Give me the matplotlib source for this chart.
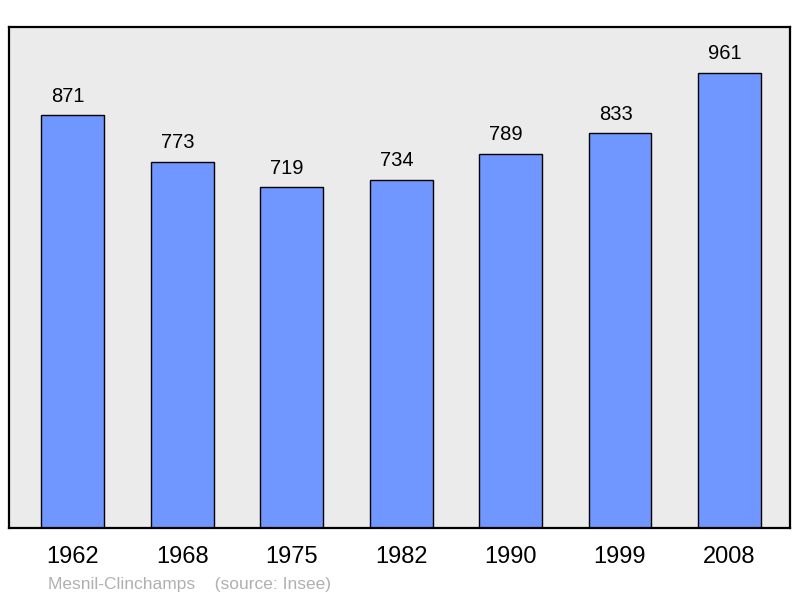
import matplotlib.pyplot as plt

plt.rcParams['font.family'] = ['Liberation Sans', 'DejaVu Sans']

years = ['1962', '1968', '1975', '1982', '1990', '1999', '2008']
population = [871, 773, 719, 734, 789, 833, 961]
commune = 'Mesnil-Clinchamps'
source = '(source: Insee)'

fig = plt.figure(figsize=(8, 5.98), dpi=100)
ax = fig.add_axes([0.011, 0.117, 0.977, 0.838])
ax.set_facecolor('#ebebeb')

x = range(len(years))
ax.bar(x, population, width=0.575, color='#7097ff', edgecolor='black', linewidth=1.0)

for xi, v in zip(x, population):
    ax.text(xi - 0.04, v + 41, str(v), ha='center', va='center', fontsize=14.5, color='black')

ax.set_xlim(-0.584, 6.557)
ax.set_ylim(0, 1058)
ax.set_yticks([])
ax.set_xticks(list(x))
ax.set_xticklabels(years, fontsize=17)
ax.tick_params(axis='x', length=0, pad=13)
for s in ax.spines.values():
    s.set_linewidth(1.6)

fig.text(0.06, 0.015, commune + '    ' + source, fontsize=12.5, color='#b0b0b0')

fig.savefig('out.png', dpi=100)
